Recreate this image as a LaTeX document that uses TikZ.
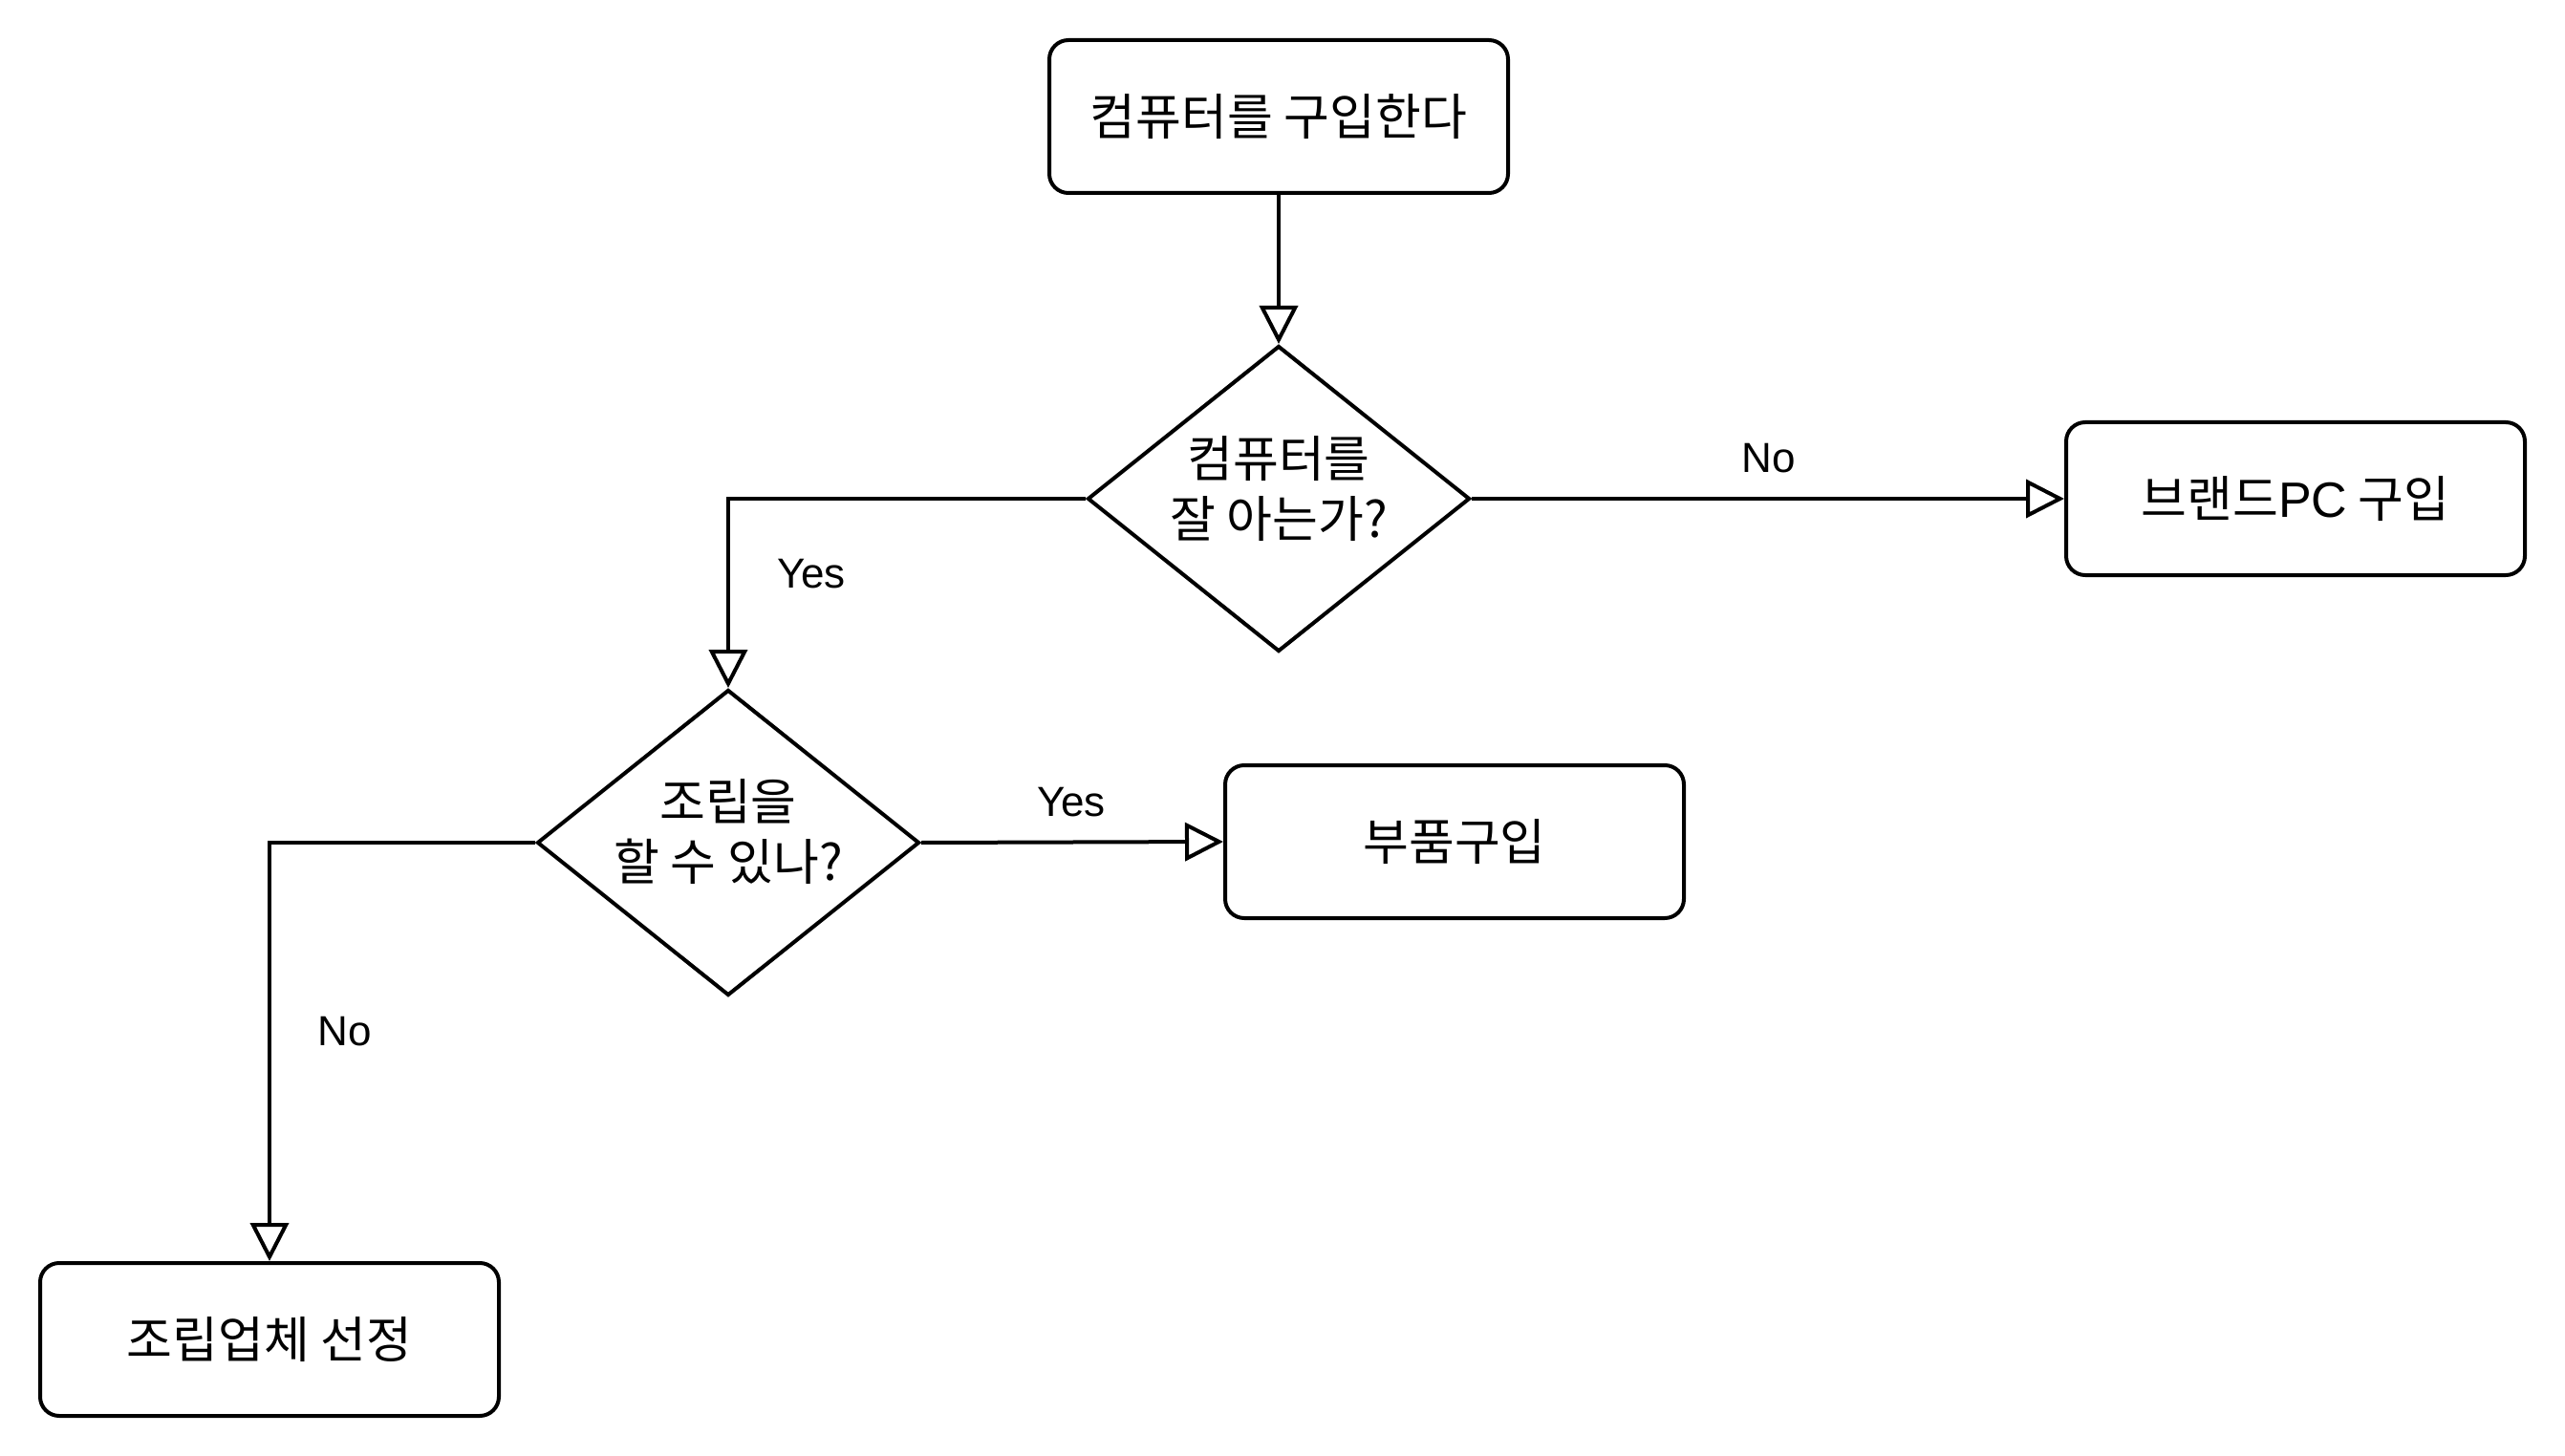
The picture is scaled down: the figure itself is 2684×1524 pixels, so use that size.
\documentclass[tikz,border=0pt]{standalone}
\usepackage{fontspec}
\setmainfont{Liberation Sans}
\newfontfamily\kr{Noto Sans CJK KR}
\usetikzlibrary{shapes.geometric,arrows.meta}

\begin{document}
\begin{tikzpicture}[x=0.5pt, y=-0.5pt, line width=2pt,
        box/.style={draw, rounded corners=10pt, minimum width=240pt, minimum height=80pt, align=center, font=\fontsize{26}{31.5}\selectfont\kr},
        decision/.style={draw, diamond, minimum width=200pt, minimum height=160pt, inner sep=-15pt, align=center, text depth=13pt, font=\fontsize{26}{31.5}\selectfont\kr},
        answer/.style={font=\fontsize{22}{26}\selectfont},
        arr/.style={-{Triangle[open, length=20pt, width=20pt]}}]
        \useasboundingbox (0,0) rectangle (2684,1524);
        \node[box] (buy) at (1338,122) {컴퓨터를 구입한다};
        \node[decision] (know) at (1338,522) {컴퓨터를\\잘 아는가?};
        \node[box] (brand) at (2402,522) {브랜드{\rmfamily PC} 구입};
        \node[decision] (assemble) at (762,882) {조립을\\할 수 있나?};
        \node[box] (parts) at (1522,881) {부품구입};
        \node[box] (vendor) at (282,1402) {조립업체 선정};
        \node[answer] (no1) at (1851,480) {No};
        \node[answer] (yes1) at (849,601) {Yes};
        \node[answer] (yes2) at (1121,840) {Yes};
        \node[answer] (no2) at (361,1080) {No};
        \draw[arr] (buy) -- (know);
        \draw[arr] (know.east) -- (brand.west);
        \draw[arr] (know.west) -| (assemble.north);
        \draw[arr] (assemble.east) -- (parts.west);
        \draw[arr] (assemble.west) -| (vendor.north);
    \end{tikzpicture}
\end{document}
